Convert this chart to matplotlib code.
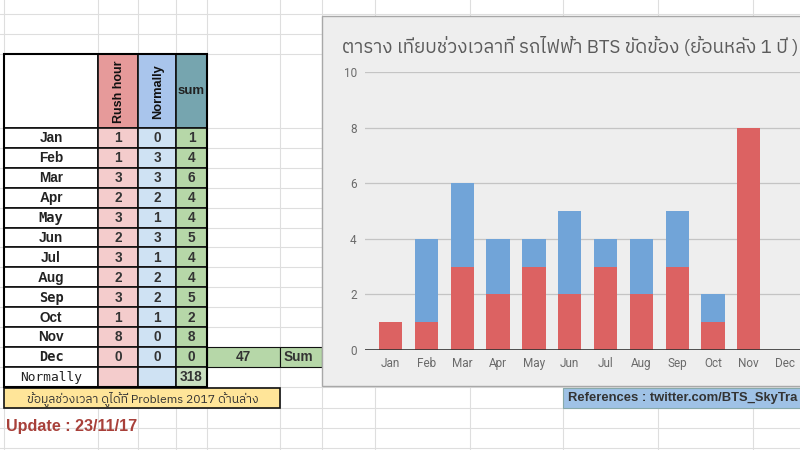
import matplotlib
matplotlib.use('Agg')
import matplotlib.pyplot as plt
from matplotlib.patches import Rectangle
from matplotlib import font_manager
from matplotlib.ft2font import FT2Font

# ---------------- data ----------------
months = ['Jan', 'Feb', 'Mar', 'Apr', 'May', 'Jun', 'Jul', 'Aug', 'Sep', 'Oct', 'Nov', 'Dec']
rush_hour = [1, 1, 3, 2, 3, 2, 3, 2, 3, 1, 8, 0]
normally = [0, 3, 3, 2, 1, 3, 1, 2, 2, 1, 0, 0]
month_sum = [1, 4, 6, 4, 4, 5, 4, 4, 5, 2, 8, 0]
total_sum = 47
normally_total = 318
y_ticks = [0, 2, 4, 6, 8, 10]
headers = ['Rush hour', 'Normally', 'sum']
title = 'ตาราง เทียบช่วงเวลาที่ รถไฟฟ้า BTS ขัดข้อง (ย้อนหลัง 1 ปี )'
note = 'ข้อมูลช่วงเวลา ดูได้ที่ Problems 2017 ด้านล่าง'
update_text = 'Update : 23/11/17'
ref_text = 'References : twitter.com/BTS_SkyTra'
mono_months = ['May', 'Sep', 'Dec']

# ---------------- fonts ----------------
def find_thai_family():
    best = None
    for f in font_manager.fontManager.ttflist:
        try:
            ft = FT2Font(f.fname)
            if ft.get_char_index(0x0E15) and ft.get_char_index(0x0E40):
                if 'Thai' in f.name and 'Looped' not in f.name:
                    return f.name
                if best is None:
                    best = f.name
        except Exception:
            pass
    return best

thai = find_thai_family()
thai_fam = ([thai] if thai else []) + ['DejaVu Sans']

W, H = 800, 450
fig = plt.figure(figsize=(8, 4.5), dpi=100)
fig.patch.set_facecolor('white')
bg = fig.add_axes([0, 0, 1, 1])
bg.set_xlim(0, W)
bg.set_ylim(H, 0)
bg.axis('off')

# spreadsheet grid
grid_c = '#dedede'
col_x = [4, 98, 138, 176, 207, 280, 322, 375, 470, 563, 658, 753]
for x in col_x:
    bg.plot([x, x], [0, H], color=grid_c, lw=0.8, zorder=0)
row_y = [14, 34, 54] + [128 + i * 19.9 for i in range(14)] + [408, 428, 448]
for y in row_y:
    bg.plot([0, W], [y, y], color=grid_c, lw=0.8, zorder=0)

# ---------------- table ----------------
c0, c1, c2, c3, c4, c5, c6 = 4, 98, 138, 176, 207, 280, 322
top, hdr_bot, rh = 54, 128, 19.9
hdr_cols = ['#e69a9a', '#a9c5ec', '#76a5af']
body_cols = ['#f4cccc', '#cfe2f3', '#b6d7a8']
xs = [c1, c2, c3, c4]
fs = 9.8

def cell(x0, x1, y0, y1, fc, lw=1.2):
    bg.add_patch(Rectangle((x0, y0), x1 - x0, y1 - y0, facecolor=fc,
                           edgecolor='#111111', lw=lw, zorder=2))

cell(c0, c1, top, hdr_bot, 'white')
for j in range(3):
    cell(xs[j], xs[j + 1], top, hdr_bot, hdr_cols[j])
bg.text((c1 + c2) / 2 + 1, (top + hdr_bot) / 2 + 1, headers[0], rotation=90, ha='center', va='center',
        fontsize=9.0, fontweight='bold', family='Liberation Sans', color='#111', zorder=3)
bg.text((c2 + c3) / 2 + 1, (top + hdr_bot) / 2 + 1, headers[1], rotation=90, ha='center', va='center',
        fontsize=9.3, fontweight='bold', family='Liberation Sans', color='#111', zorder=3)
bg.text((c3 + c4) / 2, (top + hdr_bot) / 2, headers[2], ha='center', va='center',
        fontsize=9.5, fontweight='bold', family='Liberation Sans', color='#222', zorder=3)

for i, m in enumerate(months):
    y0 = hdr_bot + i * rh
    y1 = y0 + rh
    cell(c0, c1, y0, y1, 'white')
    fam = 'DejaVu Sans Mono' if m in mono_months else 'Liberation Sans'
    bg.text((c0 + c1) / 2, (y0 + y1) / 2 + 0.5, m, ha='center', va='center', fontsize=fs,
            fontweight='bold', family=fam, color='#222', zorder=3)
    vals = [rush_hour[i], normally[i], month_sum[i]]
    for j in range(3):
        cell(xs[j], xs[j + 1], y0, y1, body_cols[j])
        bg.text((xs[j] + xs[j + 1]) / 2, (y0 + y1) / 2 + 0.5, str(vals[j]), ha='center',
                va='center', fontsize=fs, fontweight='bold', family='Liberation Sans',
                color='#333', zorder=3)

# Dec extra cells
yd0 = hdr_bot + 11 * rh
yd1 = yd0 + rh
cell(c4, c5, yd0, yd1, '#b6d7a8', lw=0.8)
cell(c5, c6, yd0, yd1, '#b6d7a8', lw=0.8)
bg.text((c4 + c5) / 2, (yd0 + yd1) / 2 + 0.5, str(total_sum), ha='center', va='center',
        fontsize=fs, fontweight='bold', family='Liberation Sans', color='#333', zorder=3)
bg.text(c5 + 4, (yd0 + yd1) / 2 + 0.5, 'Sum', ha='left', va='center',
        fontsize=fs, fontweight='bold', family='Liberation Sans', color='#333', zorder=3)

# Normally row
yn0 = hdr_bot + 12 * rh
yn1 = yn0 + rh
cell(c0, c1, yn0, yn1, 'white')
bg.text((c0 + c1) / 2, (yn0 + yn1) / 2 + 0.5, 'Normally', ha='center', va='center', fontsize=9.3,
        family='DejaVu Sans Mono', color='#222', zorder=3)
cell(c1, c2, yn0, yn1, body_cols[0])
cell(c2, c3, yn0, yn1, body_cols[1])
cell(c3, c4, yn0, yn1, '#c9dfc0')
bg.text((c3 + c4) / 2, (yn0 + yn1) / 2 + 0.5, str(normally_total), ha='center', va='center',
        fontsize=fs, fontweight='bold', family='Liberation Sans', color='#333', zorder=3)

# yellow note
cell(c0, c5, yn1 + 1, yn1 + 21, '#ffe599', lw=1.2)
bg.text((c0 + c5) / 2 + 1, yn1 + 11.5, note, ha='center', va='center', fontsize=8.7,
        family=thai_fam, color='#333', zorder=3)

# outer thick border of main table
bg.add_patch(Rectangle((c0, top), c4 - c0, yn1 - top, facecolor='none',
                       edgecolor='#000', lw=1.5, zorder=4))

# update text
bg.text(6, 427, update_text, ha='left', va='center', fontsize=11.6, fontweight='bold',
        family='Liberation Sans', color='#a8403a', zorder=3)

# references box
bg.add_patch(Rectangle((563, 388), 260, 20, facecolor='#9fc2e6', edgecolor='#8aa', lw=0.8, zorder=2))
bg.text(568, 398.5, ref_text, ha='left', va='center', fontsize=9.4, fontweight='bold',
        family='Liberation Sans', color='#333', zorder=3)

# ---------------- chart panel ----------------
bg.add_patch(Rectangle((322, 16), 500, 370, facecolor='#eeeeee', edgecolor='#a8a8a8', lw=1.0, zorder=5))
bg.text(342, 47, title, ha='left', va='center', fontsize=13.5, family=thai_fam,
        color='#5b5b5b', zorder=6)

ax_left, ax_right = 365, 815
y0px, y10px = 350, 72
ax = fig.add_axes([ax_left / W, (H - y0px) / H, (ax_right - ax_left) / W, (y0px - y10px) / H])
ax.set_facecolor('none')
ax.set_zorder(10)
x = list(range(len(months)))
bw = 0.65
ax.bar(x, rush_hour, width=bw, color='#dc6262', zorder=3)
ax.bar(x, normally, width=bw, bottom=rush_hour, color='#71a4d8', zorder=3)
ax.set_xlim(-0.718, 11.85)
ax.set_ylim(0, 10)
ax.set_yticks(y_ticks)
ax.set_yticklabels([str(v) for v in y_ticks])
ax.set_xticks(x)
ax.set_xticklabels(months)
for t in y_ticks[1:]:
    ax.axhline(t, color='#c4c4c4', lw=0.9, zorder=1)
ax.axhline(0, color='#333333', lw=1.2, zorder=4)
for s in ax.spines.values():
    s.set_visible(False)
ax.tick_params(axis='both', length=0, labelsize=8.5, labelcolor='#6a6a6a')
ax.tick_params(axis='x', pad=5)
ax.tick_params(axis='y', pad=6)
for lab in ax.get_xticklabels() + ax.get_yticklabels():
    lab.set_family('Roboto')

fig.savefig('out.png', dpi=100)
